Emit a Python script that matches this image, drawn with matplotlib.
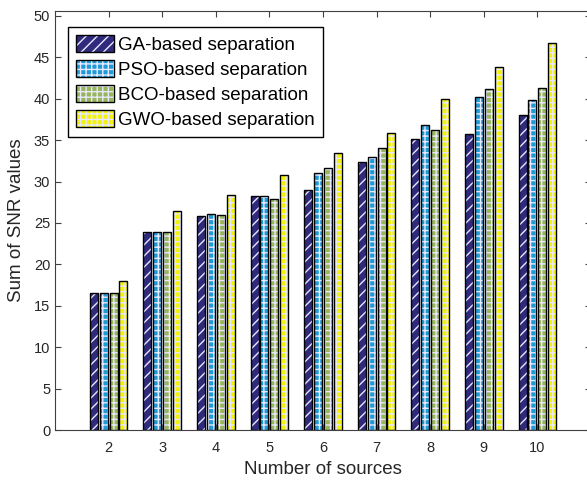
import matplotlib
matplotlib.use("Agg")
import matplotlib.pyplot as plt
import numpy as np
from matplotlib.legend_handler import HandlerTuple

plt.rcParams['font.family'] = ['Liberation Sans', 'DejaVu Sans']
plt.rcParams['hatch.linewidth'] = 1.0

sources = [2, 3, 4, 5, 6, 7, 8, 9, 10]
ga = [16.5, 23.9, 25.8, 28.3, 29.0, 32.4, 35.2, 35.7, 38.0]
pso = [16.5, 23.9, 26.1, 28.3, 31.0, 33.0, 36.8, 40.2, 39.9]
bco = [16.5, 23.9, 26.0, 27.9, 31.6, 34.0, 36.2, 41.2, 41.3]
gwo = [18.0, 26.4, 28.4, 30.8, 33.4, 35.9, 40.0, 43.8, 46.7]

labels = ['GA-based separation', 'PSO-based separation',
          'BCO-based separation', 'GWO-based separation']
series = [ga, pso, bco, gwo]
colors = ['#2f2a7c', '#1e9bd4', '#98b55a', '#f2f20a']
hatches = ['///', '+++', '+++', '+++']

fig = plt.figure(figsize=(5.87, 4.82), dpi=100)
ax = fig.add_axes([55/587, (482-430)/482, (591-55)/587, (430-11)/482])

x = np.array(sources, dtype=float)
pitch = 0.185
width = 0.15
handles = []
for i, (vals, c, h) in enumerate(zip(series, colors, hatches)):
    pos = x + (i - 1.5) * pitch
    b1 = ax.bar(pos, vals, width, color=c, edgecolor='none', linewidth=0)
    b2 = ax.bar(pos, vals, width, facecolor='none', edgecolor='#e8e8ff', hatch=h, linewidth=0)
    b3 = ax.bar(pos, vals, width, facecolor='none', edgecolor='black', linewidth=1.0)
    handles.append((b1[0], b2[0], b3[0]))

ax.set_xlim(1, 11)
ax.set_ylim(0, 50.6)
ax.set_xticks(sources)
ax.set_yticks(np.arange(0, 51, 5))
ax.tick_params(direction='in', top=True, right=True, length=4, width=0.8,
               labelsize=10.5, colors='#404040', labelcolor='#262626')
ax.tick_params(axis='x', pad=8)
for s in ax.spines.values():
    s.set_color('#404040')
    s.set_linewidth(0.8)

ax.set_xlabel('Number of sources', fontsize=13.5, color='#262626', labelpad=4)
ax.set_ylabel('Sum of SNR values', fontsize=13.5, color='#262626', labelpad=6)

leg = ax.legend(handles, labels, loc='upper left', bbox_to_anchor=(0.024, 0.962),
                borderaxespad=0, fontsize=13.5, fancybox=False, frameon=True,
                handlelength=2.0, handleheight=1.0, handletextpad=0.2,
                labelspacing=0.32, borderpad=0.45, framealpha=1,
                handler_map={tuple: HandlerTuple(ndivide=1, pad=0)})
leg.get_frame().set_edgecolor('black')
leg.get_frame().set_linewidth(1.0)

fig.savefig('out.png', dpi=100)
